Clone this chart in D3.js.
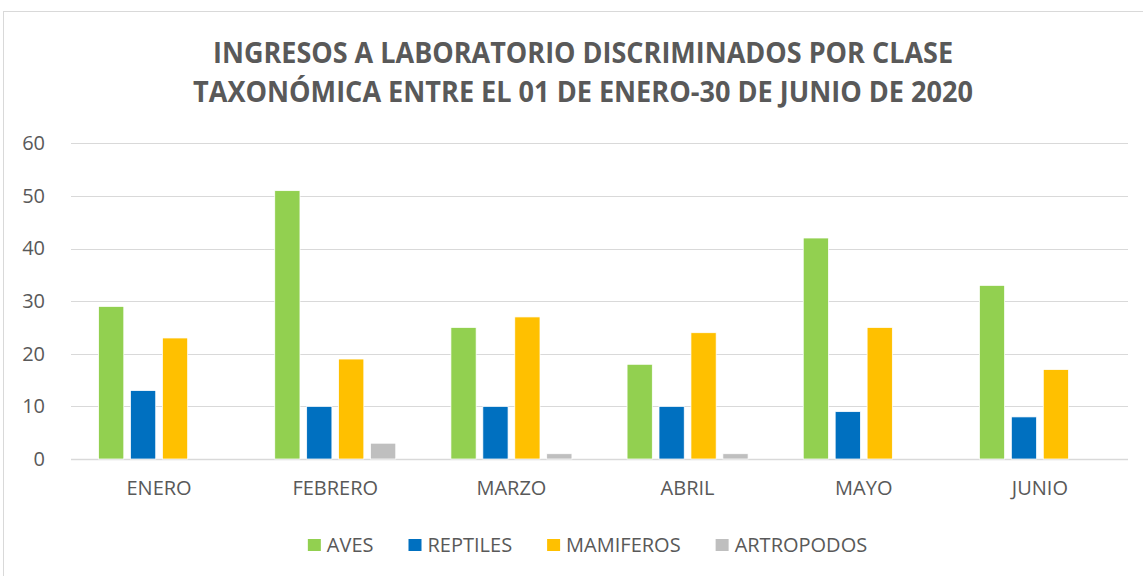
<!DOCTYPE html>
<html>
<head>
<meta charset="utf-8">
<script src="https://cdn.jsdelivr.net/npm/d3@7"></script>
<style>
  body { margin: 0; background: #fff; }
  svg { display: block; font-family: "Open Sans", Carlito, Calibri, sans-serif; }
</style>
</head>
<body>
<script>
var width = 1143;
var height = 576;

var months = ["ENERO", "FEBRERO", "MARZO", "ABRIL", "MAYO", "JUNIO"];
var seriesNames = ["AVES", "REPTILES", "MAMIFEROS", "ARTROPODOS"];
var aves = [29, 51, 25, 18, 42, 33];
var reptiles = [13, 10, 10, 10, 9, 8];
var mamiferos = [23, 19, 27, 24, 25, 17];
var artropodos = [0, 3, 1, 1, 0, 0];
var yTicks = [0, 10, 20, 30, 40, 50, 60];
var titleLines = [
  "INGRESOS A LABORATORIO DISCRIMINADOS POR CLASE",
  "TAXONÓMICA ENTRE EL 01 DE ENERO-30 DE JUNIO DE 2020"
];

var colors = ["#92D050", "#0070C0", "#FFC000", "#BFBFBF"];
var allSeries = [aves, reptiles, mamiferos, artropodos];

var plot = { left: 71, right: 1128, top: 143.3, bottom: 459 };
var font = "\"Open Sans\", Carlito, Calibri, sans-serif";

const svg = d3.select("body").append("svg")
  .attr("width", width)
  .attr("height", height);

// chart frame
svg.append("rect")
  .attr("x", 3.5).attr("y", 11.5)
  .attr("width", width + 10).attr("height", height + 10)
  .attr("fill", "#fff")
  .attr("stroke", "#d9d9d9")
  .attr("stroke-width", 1);

// title
var titleWidths = [740, 780];
svg.append("g").selectAll("text")
  .data(titleLines)
  .enter().append("text")
  .attr("x", 583)
  .attr("y", function (d, i) { return i === 0 ? 63.3 : 101.7; })
  .attr("text-anchor", "middle")
  .attr("font-size", 28)
  .attr("font-weight", "bold")
  .attr("fill", "#595959")
  .attr("textLength", function (d, i) { return titleWidths[i]; })
  .attr("lengthAdjust", "spacingAndGlyphs")
  .text(function (d) { return d; });

var y = d3.scaleLinear().domain([0, 60]).range([plot.bottom, plot.top]);

var x0 = d3.scaleBand()
  .domain(months)
  .range([plot.left, plot.right])
  .paddingInner(0.313)
  .paddingOuter(0.1565);

var x1 = d3.scaleBand()
  .domain(seriesNames)
  .range([0, x0.bandwidth()])
  .paddingInner(0.21);

// gridlines
svg.append("g").selectAll("line")
  .data(yTicks)
  .enter().append("line")
  .attr("x1", plot.left).attr("x2", plot.right)
  .attr("y1", function (d) { return Math.round(y(d)) + 0.5; })
  .attr("y2", function (d) { return Math.round(y(d)) + 0.5; })
  .attr("stroke", "#d9d9d9")
  .attr("stroke-width", function (d) { return d === 0 ? 1.5 : 1.2; });

// y axis labels
var yAxis = d3.axisLeft(y).tickValues(yTicks).tickSize(0).tickPadding(0);
var yg = svg.append("g")
  .attr("transform", "translate(45,0)")
  .call(yAxis);
yg.select(".domain").remove();
yg.selectAll("text")
  .attr("font-size", 20)
  .attr("font-family", font)
  .attr("fill", "#595959");

// bars
var groups = svg.append("g").selectAll("g")
  .data(months)
  .enter().append("g")
  .attr("transform", function (d) { return "translate(" + x0(d) + ",0)"; });

groups.selectAll("rect")
  .data(function (m, i) {
    return seriesNames.map(function (s, j) {
      return { series: s, value: allSeries[j][i], color: colors[j] };
    });
  })
  .enter().append("rect")
  .filter(function (d) { return d.value > 0; })
  .attr("x", function (d) { return x1(d.series); })
  .attr("width", x1.bandwidth())
  .attr("y", function (d) { return y(d.value); })
  .attr("height", function (d) { return y(0) - y(d.value); })
  .attr("fill", function (d) { return d.color; })
  .attr("stroke", "#fff")
  .attr("stroke-width", 0.75);

// category axis labels
var xAxis = d3.axisBottom(x0).tickSize(0).tickPadding(0);
var xg = svg.append("g")
  .attr("transform", "translate(0,481)")
  .call(xAxis);
xg.select(".domain").remove();
xg.selectAll("text")
  .attr("font-size", 20)
  .attr("font-family", font)
  .attr("fill", "#595959");

// legend
var legend = svg.append("g");
var items = legend.selectAll("g")
  .data(seriesNames)
  .enter().append("g");
items.append("rect")
  .attr("width", 13).attr("height", 12)
  .attr("y", -6)
  .attr("fill", function (d, i) { return colors[i]; });
items.append("text")
  .attr("x", 19)
  .attr("dy", "0.35em")
  .attr("font-size", 20)
  .attr("fill", "#595959")
  .text(function (d) { return d; });

var gap = 35;
var offset = 0;
var positions = [];
items.each(function () {
  var w = 19 + d3.select(this).select("text").node().getComputedTextLength();
  positions.push(offset);
  offset += w + gap;
});
var totalW = offset - gap;
var start = 587.5 - totalW / 2;
items.attr("transform", function (d, i) {
  return "translate(" + (start + positions[i]) + ",545)";
});
</script>
</body>
</html>
